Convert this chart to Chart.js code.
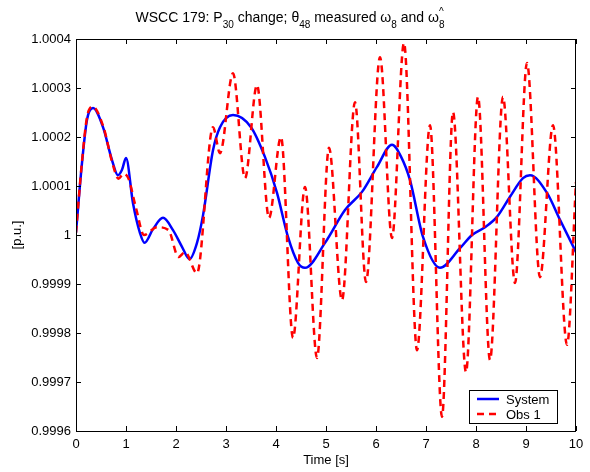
<!DOCTYPE html>
<html>
<head>
<meta charset="utf-8">
<script src="https://cdn.jsdelivr.net/npm/chart.js@4.4.0/dist/chart.umd.min.js"></script>
<style>
  html, body { margin: 0; padding: 0; background: #fff; }
  #wrap { width: 590px; height: 472px; }
</style>
</head>
<body>
<div id="wrap"><canvas id="grafica" width="590" height="472"></canvas></div>
<script>
// --- Datos ---
const series = ['System', 'Obs 1'];

const tiempoSistema = [0, 0.12, 0.22, 0.34, 0.54, 0.72, 0.84, 0.92, 1.0, 1.14,
    1.28, 1.37, 1.54, 1.74, 1.94, 2.12, 2.27, 2.42, 2.54, 2.74,
    2.88, 3.14, 3.5, 3.78, 4.02, 4.24, 4.44, 4.58, 4.98, 5.38,
    5.72, 6.02, 6.32, 6.5, 6.68, 6.94, 7.28, 7.68, 7.92, 8.18,
    8.42, 8.68, 8.94, 9.08, 9.42, 9.68, 10];
const valoresSistema = [1.000005, 1.000147, 1.000235, 1.000259, 1.00022, 1.000153, 1.000122, 1.000133, 1.000157, 1.000065,
    1.000004, 0.999984, 1.000012, 1.000035, 1.00001, 0.999976, 0.999951, 0.999984, 1.00004, 1.000173,
    1.00022, 1.000245, 1.00022, 1.000159, 1.000086, 0.999996, 0.999943, 0.999933, 0.999984, 1.000051,
    1.000088, 1.000139, 1.000184, 1.00016, 1.000112, 0.999996, 0.999933, 0.999973, 1.0, 1.000016,
    1.000037, 1.000078, 1.000116, 1.000122, 1.000086, 1.000031, 0.999965];

const tiempoObs = [0, 0.12, 0.22, 0.33, 0.55, 0.72, 0.85, 0.95, 1.05, 1.2,
    1.36, 1.62, 1.85, 2.05, 2.18, 2.42, 2.74, 2.88, 3.14, 3.38,
    3.62, 3.86, 4.1, 4.34, 4.58, 4.82, 5.06, 5.32, 5.58, 5.8,
    6.08, 6.32, 6.56, 6.82, 7.08, 7.32, 7.54, 7.8, 8.04, 8.28,
    8.54, 8.78, 9.02, 9.28, 9.54, 9.82, 10];
const valoresObs = [1.000005, 1.00015, 1.00024, 1.000262, 1.00022, 1.00015, 1.000115, 1.000125, 1.000115, 1.000055,
    1.0, 1.000016, 1.00001, 0.999955, 0.999965, 0.999922, 1.00022, 1.000167, 1.00033, 1.000116,
    1.000306, 1.000035, 1.0002, 0.99979, 1.000098, 0.999749, 1.000178, 0.999867, 1.000271, 0.999904,
    1.000363, 0.999994, 1.000392, 0.999765, 1.000224, 0.999629, 1.000251, 0.99972, 1.000282, 0.999745,
    1.000282, 0.999902, 1.000351, 0.999914, 1.000224, 0.999776, 1.000108];

const ticksX = [0, 1, 2, 3, 4, 5, 6, 7, 8, 9, 10];
const ticksY = [0.9996, 0.9997, 0.9998, 0.9999, 1, 1.0001, 1.0002, 1.0003, 1.0004];
const etiquetasY = ['0.9996', '0.9997', '0.9998', '0.9999', '1', '1.0001', '1.0002', '1.0003', '1.0004'];

const FUENTE = '"Liberation Sans", Arial, Helvetica, sans-serif';
Chart.defaults.font.family = FUENTE;
Chart.defaults.color = '#000';

const puntos = (ts, vs) => ts.map((t, i) => ({ x: t, y: vs[i] }));

// --- Título con subíndices estilo MATLAB ---
function dibujarTitulo(ctx, cx, base) {
    const normal = '14px ' + FUENTE;
    const chica = '10px ' + FUENTE;
    const partes = [
        ['WSCC 179: P', 0], ['30', 1], [' change; \u03b8', 0], ['48', 1],
        [' measured \u03c9', 0], ['8', 1], [' and \u03c9', 0], ['8', 2]
    ];
    let total = 0;
    partes.forEach(([txt, tipo]) => {
        ctx.font = tipo ? chica : normal;
        total += ctx.measureText(txt).width;
    });
    let x = cx - total / 2;
    ctx.textAlign = 'left';
    ctx.textBaseline = 'alphabetic';
    partes.forEach(([txt, tipo]) => {
        ctx.font = tipo ? chica : normal;
        ctx.fillText(txt, x, tipo ? base + 6 : base);
        if (tipo === 2) ctx.fillText('^', x, base - 7);
        x += ctx.measureText(txt).width;
    });
}

// --- Marco, ticks internos, títulos y leyenda ---
const marco = {
    id: 'marco',
    afterDraw(chart) {
        const { ctx, chartArea: a, scales: { x, y } } = chart;
        ctx.save();
        ctx.strokeStyle = '#000';
        ctx.lineWidth = 1;
        ctx.strokeRect(a.left + 0.5, a.top + 0.5, a.right - a.left - 1, a.bottom - a.top);

        ctx.beginPath();
        ticksX.forEach(v => {
            const px = Math.round(x.getPixelForValue(v)) + 0.5;
            ctx.moveTo(px, a.bottom); ctx.lineTo(px, a.bottom - 5);
            ctx.moveTo(px, a.top); ctx.lineTo(px, a.top + 5);
        });
        ticksY.forEach(v => {
            const py = Math.round(y.getPixelForValue(v)) + 0.5;
            ctx.moveTo(a.left, py); ctx.lineTo(a.left + 5, py);
            ctx.moveTo(a.right, py); ctx.lineTo(a.right - 5, py);
        });
        ctx.stroke();

        ctx.fillStyle = '#000';
        dibujarTitulo(ctx, 290, 22);

        ctx.font = '13px ' + FUENTE;
        ctx.textAlign = 'center';
        ctx.textBaseline = 'middle';
        ctx.fillText('Time [s]', (a.left + a.right) / 2, 460);
        ctx.save();
        ctx.translate(17, (a.top + a.bottom) / 2);
        ctx.rotate(-Math.PI / 2);
        ctx.fillText('[p.u.]', 0, 0);
        ctx.restore();

        // Leyenda
        const lx = a.right - 107, ly = a.bottom - 41, lw = 88, lh = 33;
        ctx.fillStyle = '#fff';
        ctx.fillRect(lx, ly, lw, lh);
        ctx.strokeRect(lx + 0.5, ly + 0.5, lw, lh);
        chart.data.datasets.forEach((ds, i) => {
            const yy = ly + 9 + i * 15;
            ctx.beginPath();
            ctx.strokeStyle = ds.borderColor;
            ctx.lineWidth = ds.borderWidth;
            ctx.setLineDash(ds.borderDash || []);
            ctx.moveTo(lx + 8, yy);
            ctx.lineTo(lx + 30, yy);
            ctx.stroke();
            ctx.setLineDash([]);
            ctx.fillStyle = '#000';
            ctx.textAlign = 'left';
            ctx.fillText(ds.label, lx + 37, yy + 1);
        });
        ctx.restore();
    }
};

new Chart(document.getElementById('grafica'), {
    type: 'line',
    data: {
        datasets: [
            {
                label: series[0],
                data: puntos(tiempoSistema, valoresSistema),
                borderColor: '#0000ff',
                borderWidth: 2.5,
                pointRadius: 0,
                cubicInterpolationMode: 'monotone',
                order: 1
            },
            {
                label: series[1],
                data: puntos(tiempoObs, valoresObs),
                borderColor: '#ff0000',
                borderWidth: 2.5,
                borderDash: [7, 5],
                pointRadius: 0,
                cubicInterpolationMode: 'monotone',
                order: 0
            }
        ]
    },
    options: {
        responsive: false,
        animation: false,
        devicePixelRatio: 1,
        layout: { padding: { top: 39, right: 14, left: 0, bottom: 0 } },
        plugins: { legend: { display: false }, title: { display: false }, tooltip: { enabled: false } },
        scales: {
            x: {
                type: 'linear', min: 0, max: 10,
                afterBuildTicks: s => { s.ticks = ticksX.map(v => ({ value: v })); },
                afterFit: s => { s.height = 41; },
                grid: { drawOnChartArea: false, drawTicks: false },
                border: { display: false },
                ticks: { padding: 6, font: { size: 13 }, color: '#000', maxRotation: 0, callback: v => String(v) }
            },
            y: {
                type: 'linear', min: 0.9996, max: 1.0004,
                afterBuildTicks: s => { s.ticks = ticksY.map(v => ({ value: v })); },
                afterFit: s => { s.width = 76; },
                grid: { drawOnChartArea: false, drawTicks: false },
                border: { display: false },
                ticks: { padding: 5, font: { size: 13 }, color: '#000',
                    callback: (v, i) => etiquetasY[i] }
            }
        }
    },
    plugins: [marco]
});
</script>
</body>
</html>
